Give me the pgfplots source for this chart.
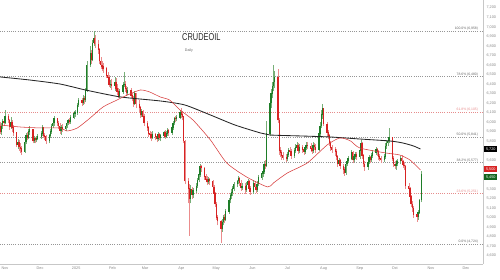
\documentclass[border=0pt]{standalone}
\usepackage{pgfplots}
\pgfplotsset{compat=1.18}
\usepackage{pgfplotstable}
\usepackage{graphicx}
\usepackage{fontspec}
\setmainfont{Liberation Sans}
\definecolor{upc}{RGB}{30,125,40}
\definecolor{dnc}{RGB}{215,35,35}
\definecolor{upw}{RGB}{120,175,120}
\definecolor{dnw}{RGB}{235,140,140}
\definecolor{fibg}{RGB}{150,150,150}
\definecolor{fibr}{RGB}{230,140,140}
\definecolor{ma50}{RGB}{215,60,60}
\definecolor{lblg}{RGB}{135,135,135}
\definecolor{boxg}{RGB}{20,100,30}

% up candles: day o h l c (day 0 = 1 Nov 2024)
\pgfplotstableread{
d o h l c
-3 5900 5990 5870 5960
-2 5960 6040 5930 6010
0 5990 6130 5980 6060
5 5950 6060 5930 6000
11 5760 5830 5720 5790
17 5690 5810 5680 5790
18 5790 5890 5770 5860
20 5840 5930 5820 5900
21 5900 5960 5870 5920
25 5800 5860 5780 5830
27 5810 5860 5790 5830
28 5830 5880 5810 5850
31 5850 5910 5830 5880
32 5880 5970 5860 5940
38 5800 5880 5780 5860
39 5860 5930 5840 5900
40 5900 5980 5880 5960
41 5960 6020 5940 5990
42 5990 6070 5960 6040
48 5910 5970 5870 5940
52 5930 5990 5910 5960
53 5960 6010 5940 5990
54 5990 6040 5970 6020
56 6000 6080 5980 6050
59 6050 6120 6030 6090
60 6090 6130 6060 6100
62 6100 6200 6080 6180
63 6180 6260 6160 6230
67 6200 6290 6180 6250
69 6230 6360 6210 6330
70 6330 6640 6320 6600
73 6600 6800 6580 6720
75 6650 6860 6640 6830
76 6830 6958 6800 6880
90 6390 6440 6360 6400
94 6380 6480 6330 6420
98 6280 6350 6260 6320
101 6320 6420 6300 6390
102 6390 6528 6370 6400
105 6310 6370 6290 6330
111 6190 6330 6180 6300
117 6080 6140 6060 6110
126 5840 5910 5820 5870
131 5820 5900 5800 5870
133 5840 5880 5800 5860
136 5860 5910 5840 5890
138 5850 5910 5840 5880
139 5880 5940 5860 5910
143 5890 5970 5870 5940
144 5940 6010 5920 5990
145 5990 6060 5970 6040
147 6030 6080 6010 6050
150 6050 6130 6030 6100
159 5200 5340 5150 5290
161 5240 5310 5210 5280
164 5280 5360 5260 5330
165 5330 5420 5310 5390
166 5390 5480 5370 5450
167 5450 5560 5430 5540
174 5370 5430 5350 5400
186 4880 4990 4850 4950
187 4950 5030 4920 5000
189 4980 5090 4960 5060
192 5060 5210 5040 5180
193 5180 5260 5150 5230
194 5230 5300 5200 5260
195 5260 5330 5230 5300
196 5300 5370 5280 5350
199 5350 5400 5320 5380
200 5380 5440 5350 5410
203 5310 5360 5290 5330
207 5290 5370 5270 5340
208 5340 5410 5320 5380
213 5270 5390 5250 5360
216 5290 5380 5270 5350
217 5350 5450 5330 5420
220 5420 5490 5400 5460
221 5460 5510 5430 5480
222 5480 5590 5460 5560
224 5540 6010 5530 5880
227 5880 6260 5860 6200
228 6200 6350 6150 6300
229 6300 6420 6250 6380
230 6380 6601 6330 6420
231 6420 6540 6360 6470
242 5620 5690 5590 5660
243 5660 5730 5640 5700
248 5650 5730 5630 5700
249 5700 5770 5680 5730
250 5730 5790 5710 5760
252 5700 5770 5680 5740
257 5690 5760 5670 5730
258 5730 5790 5710 5760
264 5700 5790 5680 5760
269 5710 5910 5700 5880
270 5880 6000 5860 5960
271 5960 6130 5940 6080
272 6080 6192 6040 6140
286 5560 5630 5540 5600
292 5470 5590 5450 5560
293 5560 5620 5540 5590
294 5590 5650 5570 5620
297 5620 5710 5600 5680
299 5600 5670 5580 5640
300 5640 5690 5620 5660
304 5640 5730 5620 5700
305 5700 5810 5680 5780
311 5530 5610 5500 5580
312 5580 5660 5560 5630
314 5600 5680 5580 5650
315 5650 5710 5630 5680
318 5680 5740 5660 5710
325 5600 5670 5580 5640
326 5640 5780 5620 5750
327 5750 5810 5720 5780
328 5780 5830 5750 5800
329 5800 5941 5780 5840
335 5540 5600 5500 5560
336 5560 5620 5540 5590
339 5590 5650 5560 5620
354 5010 5080 4980 5050
355 5050 5200 5040 5180
357 5180 5490 5160 5450
}\upC

% down candles
\pgfplotstableread{
d o h l c
-4 5960 6000 5880 5900
-1 6010 6060 5960 5990
3 6060 6090 5990 6020
4 6020 6040 5920 5950
6 6000 6020 5900 5940
7 5940 5970 5860 5890
10 5890 5900 5740 5760
12 5790 5810 5700 5740
13 5740 5780 5680 5720
14 5720 5750 5657 5690
19 5860 5900 5810 5840
24 5920 5930 5780 5800
26 5830 5850 5780 5810
33 5940 5950 5840 5860
34 5860 5890 5810 5850
35 5850 5870 5770 5800
45 6040 6050 5960 5990
46 5990 6010 5930 5960
47 5960 5990 5880 5910
49 5940 5980 5900 5930
55 6020 6050 5980 6000
66 6230 6260 6170 6200
68 6250 6280 6190 6230
74 6720 6760 6610 6650
77 6880 6920 6780 6820
80 6820 6860 6720 6760
81 6760 6780 6610 6640
82 6640 6680 6560 6600
83 6600 6640 6540 6580
84 6580 6620 6520 6560
87 6560 6580 6460 6490
88 6490 6530 6430 6470
89 6470 6500 6370 6390
91 6400 6450 6340 6380
95 6420 6460 6320 6350
96 6350 6400 6290 6320
97 6320 6360 6250 6280
103 6400 6430 6320 6350
104 6350 6380 6280 6310
108 6330 6360 6250 6280
109 6280 6310 6220 6250
110 6250 6280 6160 6190
112 6300 6310 6150 6190
115 6190 6230 6110 6150
116 6150 6170 6050 6080
118 6110 6130 6020 6060
119 6060 6090 5960 5990
122 5990 6010 5910 5940
123 5940 5960 5850 5880
124 5880 5910 5830 5870
125 5870 5900 5800 5840
129 5870 5890 5810 5850
130 5850 5880 5790 5820
132 5870 5890 5810 5840
137 5890 5920 5830 5850
140 5910 5930 5860 5890
146 6040 6070 6000 6030
151 6100 6150 6050 6080
152 6080 6120 6020 6060
153 6060 6070 5780 5800
154 5800 5810 5350 5380
157 5380 5420 5150 5300
158 5300 5350 4808 5200
160 5290 5320 5200 5240
168 5540 5553 5480 5520
171 5520 5530 5400 5430
172 5430 5460 5370 5400
173 5400 5440 5340 5370
175 5400 5420 5340 5380
178 5380 5400 5290 5320
179 5320 5340 5220 5250
180 5250 5270 5110 5140
181 5140 5160 4980 5000
182 5000 5030 4920 4960
185 4960 4980 4735 4880
188 5000 5040 4940 4980
201 5410 5430 5330 5360
202 5360 5390 5280 5310
206 5330 5360 5250 5290
209 5380 5390 5270 5300
210 5300 5330 5240 5270
214 5360 5380 5290 5320
215 5320 5350 5260 5290
223 5560 5600 5510 5540
234 6470 6560 5990 6020
235 6020 6050 5660 5700
236 5700 5740 5640 5680
237 5680 5710 5610 5650
238 5650 5690 5600 5630
241 5630 5670 5580 5620
244 5700 5740 5650 5690
245 5690 5720 5620 5650
251 5760 5780 5670 5700
255 5740 5760 5680 5710
256 5710 5740 5660 5690
259 5760 5790 5720 5750
262 5750 5780 5690 5720
263 5720 5750 5670 5700
265 5760 5780 5710 5740
266 5740 5770 5680 5710
273 6140 6150 5960 5980
276 5980 6000 5850 5890
277 5890 5920 5820 5860
278 5860 5880 5750 5780
279 5780 5800 5700 5730
280 5730 5760 5680 5710
283 5710 5740 5650 5690
284 5690 5720 5610 5640
285 5640 5660 5530 5560
287 5600 5620 5510 5540
290 5540 5560 5460 5500
291 5500 5530 5440 5470
298 5680 5700 5570 5600
301 5660 5690 5610 5640
306 5780 5790 5620 5650
307 5650 5670 5530 5560
308 5560 5590 5490 5530
313 5630 5650 5570 5600
319 5710 5730 5650 5690
320 5690 5710 5610 5640
321 5640 5670 5590 5620
322 5620 5650 5570 5600
332 5840 5850 5590 5620
333 5620 5650 5530 5560
334 5560 5590 5510 5540
340 5620 5660 5550 5590
341 5590 5610 5520 5550
342 5550 5580 5500 5540
343 5540 5550 5300 5330
346 5330 5360 5260 5300
347 5300 5320 5180 5220
348 5220 5240 5110 5140
349 5140 5170 5060 5100
350 5100 5120 5000 5030
353 5030 5060 4955 5010
}\dnC

\begin{document}
\begin{tikzpicture}
\useasboundingbox (0,0) rectangle (500pt,280pt);
\begin{axis}[
  at={(0pt,16pt)}, anchor=south west,
  width=483pt, height=264pt, scale only axis,
  xmin=-4.3, xmax=409.6, ymin=4514, ymax=7283,
  axis x line*=bottom, axis y line*=right,
  axis line style={draw=black!22, line width=0.5pt, -},
  xtick={0,30,61,92,120,151,181,212,242,273,304,334,365,395},
  xticklabels={Nov,Dec,2025,Feb,Mar,Apr,May,Jun,Jul,Aug,Sep,Oct,Nov,Dec},
  ytick={4600,4700,4800,4900,5000,5100,5200,5300,5600,5800,5900,6000,6100,6200,6300,6400,6500,6600,6700,6800,6900,7000,7100,7200},
  tick style={draw=none},
  ticklabel style={font=\fontsize{3.8}{4}\selectfont, text=lblg},
  /pgf/number format/1000 sep={,},
  /pgf/number format/assume math mode=true,
  xticklabel style={yshift=1pt},
  clip=false,
]
% Fibonacci levels
\addplot[fibg, line width=0.5pt, dash pattern=on 0.8pt off 1.4pt] coordinates {(-4.3,6958) (409,6958)};
\addplot[fibg, line width=0.5pt, dash pattern=on 0.8pt off 1.4pt] coordinates {(-4.3,6480) (409,6480)};
\addplot[fibr, line width=0.5pt, dash pattern=on 0.8pt off 1.4pt] coordinates {(-4.3,6105) (409,6105)};
\addplot[fibg, line width=0.5pt, dash pattern=on 0.8pt off 1.4pt] coordinates {(-4.3,5841) (409,5841)};
\addplot[fibg, line width=0.5pt, dash pattern=on 0.8pt off 1.4pt] coordinates {(-4.3,5577) (409,5577)};
\addplot[fibr, line width=0.5pt, dash pattern=on 0.8pt off 1.4pt] coordinates {(-4.3,5251) (409,5251)};
\addplot[fibg, line width=0.5pt, dash pattern=on 0.8pt off 1.4pt] coordinates {(-4.3,4724) (409,4724)};
\tikzset{fiblab/.style={anchor=south east, inner sep=0.6pt, font=\fontsize{3.4}{3.6}\selectfont}}
\node[fiblab, text=black!60] at (axis cs:406,6958) {100.0\% (6,958)};
\node[fiblab, text=black!60] at (axis cs:406,6480) {78.6\% (6,480)};
\node[fiblab, text=fibr] at (axis cs:406,6105) {61.8\% (6,105)};
\node[fiblab, text=black!60] at (axis cs:406,5841) {50.0\% (5,841)};
\node[fiblab, text=black!60] at (axis cs:406,5577) {38.2\% (5,577)};
\node[fiblab, text=fibr] at (axis cs:406,5251) {23.6\% (5,251)};
\node[fiblab, text=black!60] at (axis cs:406,4724) {0.0\% (4,724)};

% wicks
\addplot[draw=none, mark=none, forget plot,
  error bars/.cd, y dir=plus, y explicit, error mark=none,
  error bar style={draw=upw, line width=0.4pt, solid}]
  table[x=d, y=l, y error plus expr={\thisrow{h}-\thisrow{l}}] {\upC};
\addplot[draw=none, mark=none, forget plot,
  error bars/.cd, y dir=plus, y explicit, error mark=none,
  error bar style={draw=dnw, line width=0.4pt, solid}]
  table[x=d, y=l, y error plus expr={\thisrow{h}-\thisrow{l}}] {\dnC};
% bodies
\addplot[draw=none, mark=none, forget plot,
  error bars/.cd, y dir=plus, y explicit, error mark=none,
  error bar style={draw=upc, line width=1.25pt, solid}]
  table[x=d, y=o, y error plus expr={\thisrow{c}-\thisrow{o}+6}] {\upC};
\addplot[draw=none, mark=none, forget plot,
  error bars/.cd, y dir=plus, y explicit, error mark=none,
  error bar style={draw=dnc, line width=1.25pt, solid}]
  table[x=d, y=c, y error plus expr={\thisrow{o}-\thisrow{c}+6}] {\dnC};

% 200-day moving average
\addplot[black!85, line width=0.85pt, smooth, tension=0.4] coordinates {
(-4.3,6476) (21,6444) (47,6402) (69,6339) (99,6266) (133,6224) (154,6182)
(176,6077) (197,5972) (219,5888) (227,5867) (253,5857) (279,5846)
(304,5825) (330,5804) (341,5783) (350,5752) (356,5720)};
% 50-day moving average
\addplot[ma50, line width=0.55pt, smooth, tension=0.4] coordinates {
(-4.3,5972) (13,5951) (30,5941) (47,5941) (53,5909) (62,5941) (73,6046)
(84,6161) (96,6234) (105,6287) (116,6339) (124,6318) (133,6266) (141,6234)
(150,6129) (161,6025) (176,5815) (190,5574) (207,5427) (225,5322) (230,5364)
(242,5469) (259,5574) (276,5762) (287,5836) (296,5805) (304,5731) (326,5679)
(338,5658) (347,5605) (356,5500)};

% title
\node[anchor=base west, inner sep=0pt, text=black!85, font=\fontsize{10}{10}\selectfont] at (axis cs:151.7,6853) {\scalebox{0.74}[1]{CRUDEOIL}};
\node[anchor=base west, inner sep=0pt, text=black!60, font=\fontsize{3.6}{4}\selectfont] at (axis cs:154,6745) {Daily};

% price boxes
\tikzset{pbox/.style={anchor=west, inner sep=0.8pt, minimum height=6.5pt, minimum width=13pt, text=white, font=\fontsize{3.8}{4}\selectfont}}
\node[pbox, fill=black] at (axis cs:410.5,5720) {5,720};
\node[pbox, fill=dnc] at (axis cs:410.5,5511) {5,500};
\node[pbox, fill=boxg] at (axis cs:410.5,5427) {5,450};
\end{axis}
\end{tikzpicture}
\end{document}
